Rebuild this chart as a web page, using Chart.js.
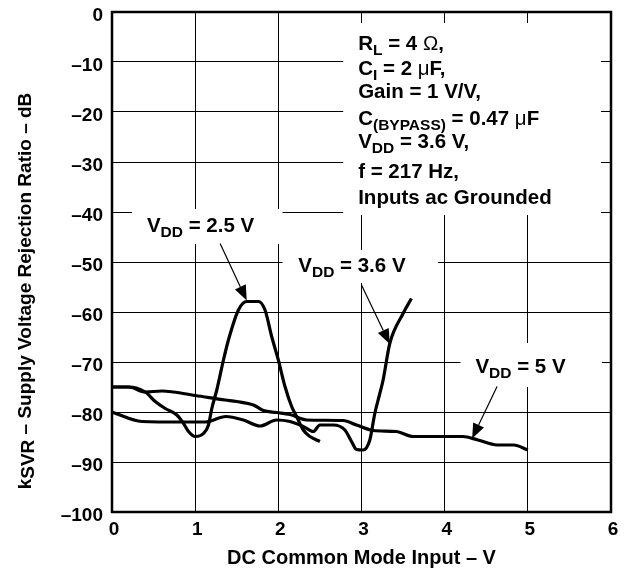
<!DOCTYPE html>
<html>
<head>
<meta charset="utf-8">
<title>Supply Voltage Rejection Ratio vs DC Common Mode Input</title>
<script src="https://cdn.jsdelivr.net/npm/chart.js@4.4.1/dist/chart.umd.min.js"></script>
<style>
    html, body { margin: 0; padding: 0; background: #fff; }
    #wrap { width: 628px; height: 576px; position: relative; }
</style>
</head>
<body>
<div id="wrap"><canvas id="svrChart"></canvas></div>
<script>
// Curve data (x = DC common mode input in V, y = kSVR in dB)
const vdd25X = [0, 0.2, 0.4, 0.52, 0.64, 0.78, 0.86, 0.92, 1.0, 1.1, 1.16, 1.2, 1.26, 1.34, 1.4, 1.52, 1.62, 1.76, 1.84, 1.92, 2.0, 2.08, 2.16, 2.22, 2.3, 2.38, 2.5];
const vdd25Y = [-75, -75, -76, -77.9, -79.3, -80.6, -82.3, -83.9, -84.9, -84.3, -82.6, -79.3, -75.6, -69.6, -65.6, -59.6, -57.9, -57.9, -59.6, -64.9, -69.6, -74.9, -78.9, -80.9, -83.6, -84.9, -85.9];

const vdd36X = [0, 0.36, 0.84, 1.12, 1.37, 1.58, 1.78, 1.98, 2.14, 2.3, 2.42, 2.5, 2.66, 2.8, 2.88, 2.94, 3.02, 3.1, 3.16, 3.22, 3.26, 3.34, 3.5, 3.6];
const vdd36Y = [-80, -81.9, -82, -82, -80.9, -81.6, -82.8, -81.6, -81.9, -82.9, -83.9, -82.6, -82.6, -83.6, -85.9, -87.5, -87.6, -85.6, -80.3, -76.3, -73.6, -66.3, -60.3, -57.3];

const vdd50X = [0, 0.2, 0.4, 0.6, 1.0, 1.36, 1.5, 1.7, 1.82, 1.98, 2.14, 2.34, 2.78, 2.94, 3.14, 3.42, 3.62, 4.22, 4.4, 4.63, 4.83, 5.0];
const vdd50Y = [-75, -75, -76, -75.8, -76.7, -77.6, -77.9, -78.6, -79.7, -80.1, -80.5, -81.6, -81.7, -82.6, -83.7, -83.9, -84.9, -84.9, -85.6, -86.6, -86.6, -87.6];

// Axis ticks
const xTicks = [0, 1, 2, 3, 4, 5, 6];
const yTicks = [0, -10, -20, -30, -40, -50, -60, -70, -80, -90, -100];

const FAM = '"Liberation Sans", Arial, Helvetica, sans-serif';

// Text blocks on the plot: box corners, text anchor and arrow tip in data units
const notes = [
    {
        box: [0.24, -39.4, 2.05, -46.4],
        lines: [{ x: 0.42, y: -43.9, parts: [['V', 'b'], ['DD', 's'], [' = 2.5 V', 'b']] }],
        arrow: [1.30, -46.3, 1.62, -57.7]
    },
    {
        box: [2.05, -47.6, 3.92, -54.2],
        lines: [{ x: 2.24, y: -51.9, parts: [['V', 'b'], ['DD', 's'], [' = 3.6 V', 'b']] }],
        arrow: [3.0, -54.6, 3.34, -66.4]
    },
    {
        box: [4.19, -66.2, 5.89, -75],
        lines: [{ x: 4.37, y: -72.2, parts: [['V', 'b'], ['DD', 's'], [' = 5 V', 'b']] }],
        arrow: [4.63, -74.9, 4.33, -85.3]
    },
    {
        box: [2.78, -2.2, 5.88, -40.6],
        lines: [
            { x: 2.96, y: -7.6, parts: [['R', 'b'], ['L', 's'], [' = 4 ', 'b'], ['\u03A9', 'g'], [',', 'b']] },
            { x: 2.96, y: -12.6, parts: [['C', 'b'], ['I', 's'], [' = 2 ', 'b'], ['\u03BC', 'g'], ['F,', 'b']] },
            { x: 2.96, y: -17.2, parts: [['Gain = 1 V/V,', 'b']] },
            { x: 2.96, y: -22.6, parts: [['C', 'b'], ['(BYPASS)', 's'], [' = 0.47 ', 'b'], ['\u03BC', 'g'], ['F', 'b']] },
            { x: 2.96, y: -27.2, parts: [['V', 'b'], ['DD', 's'], [' = 3.6 V,', 'b']] },
            { x: 2.96, y: -33.2, parts: [['f = 217 Hz,', 'b']] },
            { x: 2.96, y: -38.4, parts: [['Inputs ac Grounded', 'b']] }
        ]
    }
];

function toPoints(xs, ys) {
    return xs.map((x, i) => ({ x: x, y: ys[i] }));
}

function drawRich(ctx, x, y, parts) {
    ctx.textAlign = 'left';
    ctx.textBaseline = 'alphabetic';
    for (const [t, k] of parts) {
        if (k === 's') ctx.font = 'bold 15.5px ' + FAM;
        else if (k === 'g') ctx.font = '20.5px ' + FAM;
        else ctx.font = 'bold 20.5px ' + FAM;
        ctx.fillText(t, x, y + (k === 's' ? 5 : 0));
        x += ctx.measureText(t).width;
    }
}

function drawArrow(ctx, x1, y1, x2, y2) {
    const ang = Math.atan2(y2 - y1, x2 - x1);
    const len = 15, half = 6;
    const bx = x2 - len * Math.cos(ang), by = y2 - len * Math.sin(ang);
    ctx.beginPath();
    ctx.moveTo(x1, y1);
    ctx.lineTo(bx, by);
    ctx.lineWidth = 1.2;
    ctx.stroke();
    ctx.beginPath();
    ctx.moveTo(x2, y2);
    ctx.lineTo(bx - half * Math.sin(ang), by + half * Math.cos(ang));
    ctx.lineTo(bx + half * Math.sin(ang), by - half * Math.cos(ang));
    ctx.closePath();
    ctx.fill();
}

const notesPlugin = {
    id: 'notes',
    beforeDatasetsDraw(chart) {
        // white boxes hide the grid behind the texts
        const { ctx, scales: { x, y } } = chart;
        ctx.save();
        ctx.fillStyle = '#fff';
        notes.forEach(n => {
            const l = x.getPixelForValue(n.box[0]), t = y.getPixelForValue(n.box[1]);
            const r = x.getPixelForValue(n.box[2]), b = y.getPixelForValue(n.box[3]);
            ctx.fillRect(l, t, r - l, b - t);
        });
        ctx.restore();
    },
    afterDatasetsDraw(chart) {
        const { ctx, chartArea: a, scales: { x, y } } = chart;
        ctx.save();
        ctx.strokeStyle = '#000';
        ctx.fillStyle = '#000';
        ctx.lineWidth = 2.5;
        ctx.strokeRect(a.left, a.top, a.right - a.left, a.bottom - a.top);
        notes.forEach(n => {
            n.lines.forEach(ln => drawRich(ctx, x.getPixelForValue(ln.x), y.getPixelForValue(ln.y), ln.parts));
            if (n.arrow) {
                drawArrow(ctx,
                    x.getPixelForValue(n.arrow[0]), y.getPixelForValue(n.arrow[1]),
                    x.getPixelForValue(n.arrow[2]), y.getPixelForValue(n.arrow[3]));
            }
        });
        ctx.restore();
    },
    afterDraw(chart) {
        // y axis title with subscript, drawn bottom to top
        const ctx = chart.ctx;
        const parts = [['k', 'b'], ['SVR', 's'], [' \u2013 Supply Voltage Rejection Ratio \u2013 dB', 'b']];
        ctx.save();
        ctx.fillStyle = '#000';
        let w = 0;
        parts.forEach(([t, k]) => {
            ctx.font = 'bold 19px ' + FAM;
            w += ctx.measureText(t).width;
        });
        const cy = 291;
        ctx.translate(31, cy);
        ctx.rotate(-Math.PI / 2);
        let px = -w / 2;
        ctx.textBaseline = 'alphabetic';
        parts.forEach(([t, k]) => {
            ctx.font = 'bold 19px ' + FAM;
            ctx.fillText(t, px, k === 's' ? 3 : 0);
            px += ctx.measureText(t).width;
        });
        ctx.restore();
    }
};

const lineStyle = {
    borderColor: '#000',
    borderWidth: 3.2,
    pointRadius: 0,
    fill: false,
    cubicInterpolationMode: 'monotone'
};

Chart.defaults.font.family = FAM;
Chart.defaults.font.weight = 'bold';
Chart.defaults.color = '#000';

new Chart(document.getElementById('svrChart'), {
    type: 'line',
    data: {
        datasets: [
            Object.assign({ label: 'VDD = 2.5 V', data: toPoints(vdd25X, vdd25Y) }, lineStyle),
            Object.assign({ label: 'VDD = 3.6 V', data: toPoints(vdd36X, vdd36Y) }, lineStyle),
            Object.assign({ label: 'VDD = 5 V', data: toPoints(vdd50X, vdd50Y) }, lineStyle)
        ]
    },
    options: {
        responsive: true,
        maintainAspectRatio: false,
        animation: false,
        layout: { padding: { top: 12, right: 17, bottom: 0, left: 0 } },
        plugins: { legend: { display: false }, tooltip: { enabled: false } },
        scales: {
            x: {
                type: 'linear',
                min: xTicks[0],
                max: xTicks[xTicks.length - 1],
                afterBuildTicks: s => { s.ticks = xTicks.map(v => ({ value: v })); },
                afterFit: s => { s.height = 64; },
                grid: { color: '#000', lineWidth: 1, drawTicks: false },
                border: { display: false },
                ticks: { font: { size: 19, weight: 'bold' }, padding: 6, labelOffset: 2, maxRotation: 0 },
                title: {
                    display: true,
                    text: 'DC Common Mode Input \u2013 V',
                    font: { size: 20, weight: 'bold' },
                    padding: { top: 0, bottom: 6 }
                }
            },
            y: {
                type: 'linear',
                min: yTicks[yTicks.length - 1],
                max: yTicks[0],
                afterBuildTicks: s => { s.ticks = yTicks.map(v => ({ value: v })); },
                afterFit: s => { s.width = 112; s.paddingTop = 0; s.paddingBottom = 0; },
                grid: { color: '#000', lineWidth: 1, drawTicks: false },
                border: { display: false },
                ticks: {
                    font: { size: 19, weight: 'bold' },
                    padding: 9,
                    labelOffset: 4,
                    callback: v => String(v).replace('-', '\u2013')
                }
            }
        }
    },
    plugins: [notesPlugin]
});
</script>
</body>
</html>
